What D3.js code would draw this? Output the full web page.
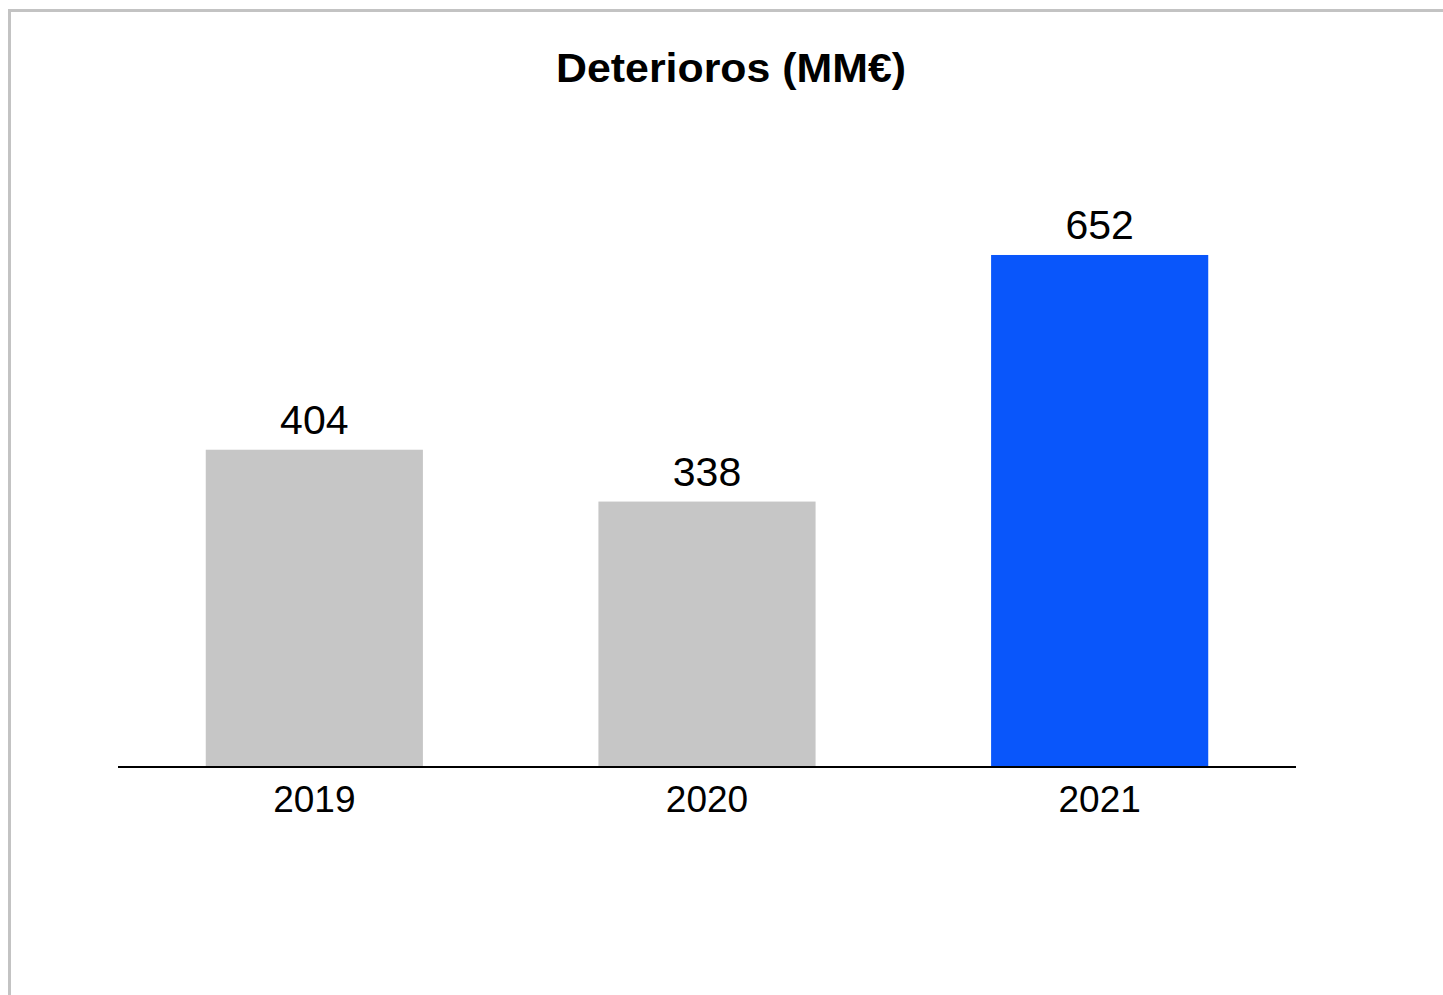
<!DOCTYPE html>
<html>
<head>
<meta charset="utf-8">
<script src="https://cdn.jsdelivr.net/npm/d3@7"></script>
<style>
  html, body { margin: 0; padding: 0; background: #fff; overflow: hidden; }
  svg { display: block; }
  text { font-family: "Liberation Sans", Arial, Helvetica, sans-serif; fill: #000; }
</style>
</head>
<body>
<svg id="chart" width="1443" height="995"></svg>
<script>
const title = "Deterioros (MM€)";
const categories = ["2019", "2020", "2021"];
const values = [404, 338, 652];
const barColors = ["#c6c6c6", "#c6c6c6", "#0956fb"];

const svg = d3.select("#chart");

// outer frame (extends beyond right/bottom edges)
svg.append("rect")
  .attr("x", 9.5).attr("y", 10.5)
  .attr("width", 1600).attr("height", 1600)
  .attr("fill", "none")
  .attr("stroke", "#c3c3c3")
  .attr("stroke-width", 3);

const x = d3.scaleBand()
  .domain(categories)
  .range([118, 1296])
  .paddingInner(0.447)
  .paddingOuter(0.2235);

const y = d3.scaleLinear()
  .domain([0, 800])
  .range([767, 767 - 0.7853 * 800]);

svg.append("text")
  .attr("x", 731).attr("y", 82)
  .attr("text-anchor", "middle")
  .attr("font-size", 40)
  .attr("font-weight", "bold")
  .attr("textLength", 350)
  .attr("lengthAdjust", "spacingAndGlyphs")
  .text(title);

svg.selectAll("text.val")
  .data(values)
  .join("text")
  .attr("class", "val")
  .attr("x", (d, i) => x(categories[i]) + x.bandwidth() / 2)
  .attr("y", d => y(d) - 16)
  .attr("text-anchor", "middle")
  .attr("font-size", 41)
  .text(d => d);

svg.selectAll("rect.bar")
  .data(values)
  .join("rect")
  .attr("class", "bar")
  .attr("x", (d, i) => x(categories[i]))
  .attr("width", x.bandwidth())
  .attr("y", d => y(d))
  .attr("height", d => y(0) - y(d))
  .attr("fill", (d, i) => barColors[i]);

const axis = d3.axisBottom(x).tickSize(0).tickPadding(0);
const g = svg.append("g")
  .attr("transform", `translate(0,${y(0)})`)
  .call(axis);
g.select(".domain").attr("stroke", "#000").attr("stroke-width", 2).attr("d", "M118,0H1296");
g.selectAll(".tick text")
  .attr("font-size", 37)
  .attr("font-family", "Liberation Sans, Arial, sans-serif")
  .attr("fill", "#000")
  .attr("dy", 0)
  .attr("y", 45);
</script>
</body>
</html>
